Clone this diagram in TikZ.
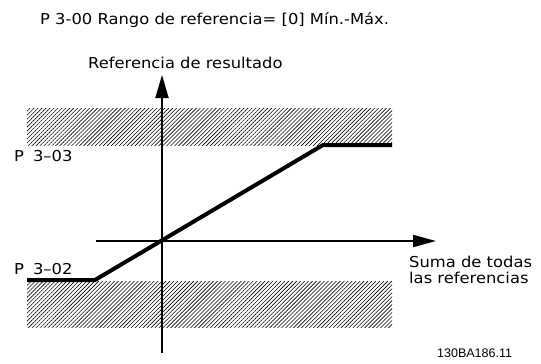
\documentclass[tikz,border=0pt]{standalone}
\usepackage{fontspec}
\setmainfont[FakeStretch=1.09]{DejaVu Sans}
\newfontfamily\codefont{Liberation Sans}
\usetikzlibrary{arrows.meta,patterns.meta,positioning}

\begin{document}
\begin{tikzpicture}[x=1pt,y=-1pt,inner sep=0pt,font=\fontsize{15}{18}\selectfont]
\tikzstyle{hatch}=[pattern={Lines[angle=45,distance=2.8pt,line width=0.6pt]}]
\tikzstyle{axis}=[line width=2pt,-{Triangle[length=23pt,width=13pt]}]
\tikzstyle{curve}=[line width=4pt,line join=miter]
\tikzstyle{label}=[anchor=base west]

\useasboundingbox (0,0) rectangle (541,364);

% forbidden bands
\fill[hatch] (27,108) rectangle (392,145);
\fill[hatch] (27,281) rectangle (392,327);

% axes
\coordinate (ybot) at (162,353);
\coordinate (ytop) at (162,75);
\coordinate (xleft) at (96,241);
\coordinate (xright) at (436,241);
\draw[axis] (ybot) -- (ytop);
\draw[axis,-{Triangle[length=23pt,width=12pt]}] (xleft) -- (xright);

% reference curve
\coordinate (lowstart) at (27,280);
\coordinate (lowkink) at (95,280);
\coordinate (upkink) at (323,145);
\coordinate (upend) at (392,145);
\draw[curve] (lowstart) -- (lowkink) -- (upkink) -- (upend);

% texts
\node[label] (title) at (40,24) {P 3-00 Rango de referencia= [0] Mín.-Máx.};
\node[label] (ylabel) at (88,68) {Referencia de resultado};
\node[label] (pmax) at (14,161) {P\hspace{9pt}3–03};
\node[label] (pmin) at (14,274) {P\hspace{9pt}3–02};
\node[label] (xlabel1) at (409,267) {Suma de todas};
\node[label] (xlabel2) [below=4pt of xlabel1.south west,anchor=north west] {las referencias};
\node[label,font=\codefont\fontsize{12.5}{14}\selectfont] (code) at (437,357) {130BA186.11};
\end{tikzpicture}
\end{document}
